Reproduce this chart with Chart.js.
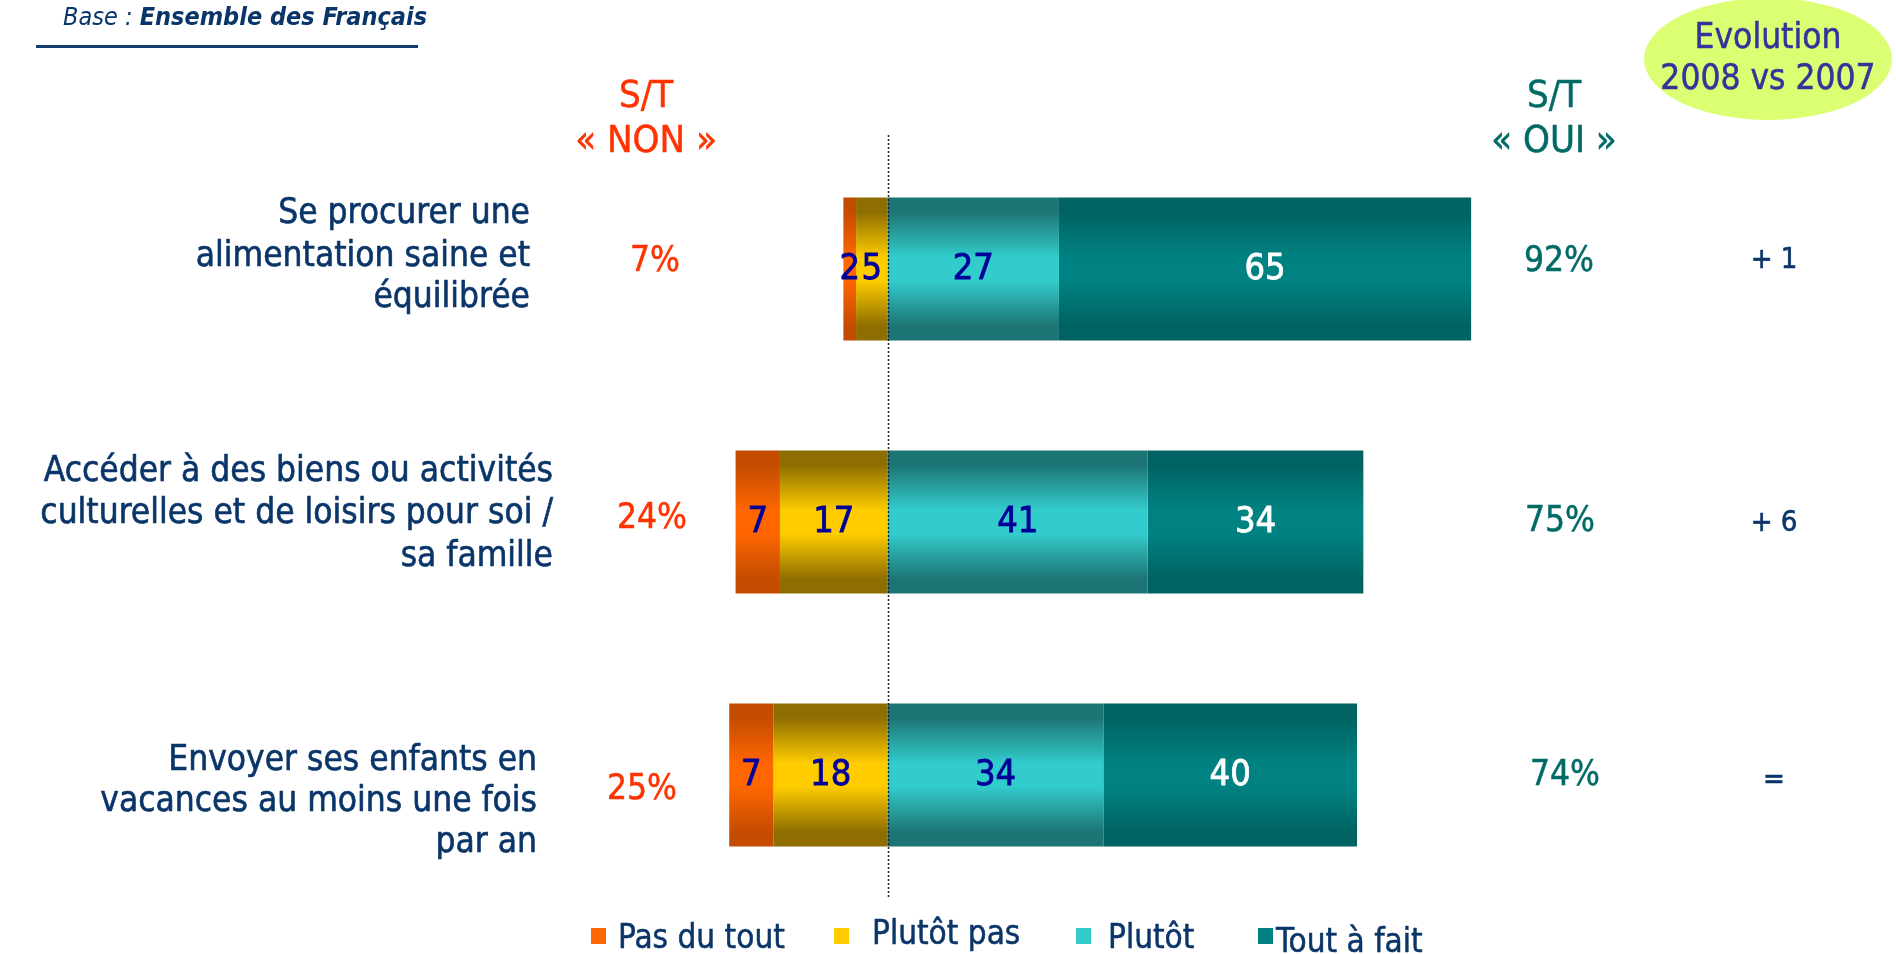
<!DOCTYPE html>
<html>
<head>
<meta charset="utf-8">
<script src="https://cdn.jsdelivr.net/npm/chart.js@4/dist/chart.umd.min.js"></script>
<style>
html,body{margin:0;padding:0;background:#ffffff;}
#wrap{position:relative;width:1896px;height:954px;}
</style>
</head>
<body>
<div id="wrap"><canvas id="c"></canvas></div>
<script>
// ---- Data ----
const categories = [
  ["Se procurer une", "alimentation saine et", "équilibrée"],
  ["Accéder à des biens ou activités", "culturelles et de loisirs pour soi /", "sa famille"],
  ["Envoyer ses enfants en", "vacances au moins une fois", "par an"]
];
const pasDuTout = [2, 7, 7];
const plutotPas = [5, 17, 18];
const plutot = [27, 41, 34];
const toutAFait = [65, 34, 40];
const stNon = ["7%", "24%", "25%"];
const stOui = ["92%", "75%", "74%"];
const evolution = ["+ 1", "+ 6", "="];
const seriesNames = ["Pas du tout", "Plutôt pas", "Plutôt", "Tout à fait"];
const headerNon = ["S/T", "« NON »"];
const headerOui = ["S/T", "« OUI »"];
const evolutionTitle = ["Evolution", "2008 vs 2007"];
const baseLabel = ["Base : ", "Ensemble des Français"];

// ---- Styles ----
const FONT = "'DejaVu Sans Condensed', 'Liberation Sans', sans-serif";
const NARROW = "'Liberation Sans Narrow', 'DejaVu Sans Condensed', 'Liberation Sans', sans-serif";
const NAVY = "#0a3569";
const RED = "#ff3300";
const TEAL = "#006b66";
const BAR_PCT = 0.565;

const palette = {
  "Pas du tout": {dark: "#c44c00", bright: "#ff6600", legend: "#ff6600", text: "#000099"},
  "Plutôt pas": {dark: "#8e6e00", bright: "#ffcc00", legend: "#ffcc00", text: "#000099"},
  "Plutôt": {dark: "#1d7474", bright: "#33cccc", legend: "#33cccc", text: "#000099"},
  "Tout à fait": {dark: "#006262", bright: "#008282", legend: "#008080", text: "#ffffff"}
};

function gradientFor(name) {
  const p = palette[name];
  return (ctx) => {
    const chart = ctx.chart;
    const area = chart.chartArea;
    if (!area || ctx.dataIndex === undefined || !chart.scales.y) return p.bright;
    const yc = chart.scales.y.getPixelForValue(ctx.dataIndex);
    const t = (area.bottom - area.top) / categories.length * BAR_PCT;
    const g = chart.ctx.createLinearGradient(0, yc - t / 2, 0, yc + t / 2);
    g.addColorStop(0, p.dark);
    g.addColorStop(0.1, p.dark);
    g.addColorStop(0.42, p.bright);
    g.addColorStop(0.58, p.bright);
    g.addColorStop(0.9, p.dark);
    g.addColorStop(1, p.dark);
    return g;
  };
}

// Negative side: "Plutôt pas" sits next to zero, "Pas du tout" outside it.
const datasets = [
  {label: "Plutôt pas", data: plutotPas.map(v => -v)},
  {label: "Pas du tout", data: pasDuTout.map(v => -v)},
  {label: "Plutôt", data: plutot},
  {label: "Tout à fait", data: toutAFait}
].map(d => Object.assign(d, {
  backgroundColor: gradientFor(d.label),
  borderWidth: 0,
  barPercentage: BAR_PCT,
  categoryPercentage: 1.0
}));

// ---- Layout of free texts (pixels) ----
const catLayout = [
  {right: 530, y: [214, 257, 298]},
  {right: 553, y: [472, 514, 557]},
  {right: 537, y: [761, 802, 843]}
];
const nonLayout = [{x: 655, y: 262}, {x: 652, y: 519}, {x: 642, y: 790}];
const ouiLayout = [{x: 1559, y: 262}, {x: 1560, y: 522}, {x: 1565, y: 776}];
const evoLayout = [{x: 1774, y: 260}, {x: 1774, y: 523}, {x: 1774, y: 780}];
const legendLayout = [
  {sq: 591, tx: 618, y: 939},
  {sq: 834, tx: 872, y: 935},
  {sq: 1076, tx: 1108, y: 939},
  {sq: 1258, tx: 1276, y: 943}
];

function heavyText(c, txt, x, y, w) {
  c.lineWidth = w;
  c.strokeStyle = c.fillStyle;
  c.strokeText(txt, x, y);
  c.fillText(txt, x, y);
}

const textPlugin = {
  id: "texts",
  afterDatasetsDraw(chart) {
    const c = chart.ctx;
    const xs = chart.scales.x;
    // bar value labels
    c.save();
    c.font = "36px " + NARROW;
    c.textAlign = "center";
    c.textBaseline = "middle";
    chart.data.datasets.forEach((ds, di) => {
      const meta = chart.getDatasetMeta(di);
      meta.data.forEach((el, i) => {
        const v = ds.data[i];
        c.fillStyle = palette[ds.label].text;
        heavyText(c, String(Math.abs(v)), (el.x + el.base) / 2, el.y + 1, 0.8);
      });
    });
    c.restore();
    // dotted zero line
    const x0 = Math.round(xs.getPixelForValue(0)) + 0.5;
    c.save();
    c.strokeStyle = "#222222";
    c.lineWidth = 1.5;
    c.setLineDash([2, 2]);
    c.beginPath();
    c.moveTo(x0, 135);
    c.lineTo(x0, 897);
    c.stroke();
    c.restore();
  },
  afterDraw(chart) {
    const c = chart.ctx;
    c.save();
    c.textBaseline = "middle";
    c.lineJoin = "round";
    // base line
    c.font = "italic 25px " + FONT;
    c.fillStyle = NAVY;
    c.textAlign = "left";
    c.fillText(baseLabel[0], 63, 18);
    const w0 = c.measureText(baseLabel[0]).width;
    c.font = "italic bold 25px " + FONT;
    c.fillText(baseLabel[1], 63 + w0, 18);
    c.fillStyle = "#123d6f";
    c.fillRect(36, 45, 382, 3);

    // headers
    c.textAlign = "center";
    c.font = "38px " + FONT;
    c.fillStyle = RED;
    heavyText(c, headerNon[0], 646, 97, 0.5);
    heavyText(c, headerNon[1], 646, 142, 0.5);
    c.fillStyle = TEAL;
    heavyText(c, headerOui[0], 1554, 97, 0.5);
    heavyText(c, headerOui[1], 1554, 142, 0.5);

    // evolution ellipse
    c.fillStyle = "#dcfe72";
    c.beginPath();
    c.ellipse(1768, 59, 124, 61, 0, 0, Math.PI * 2);
    c.fill();
    c.fillStyle = "#333399";
    c.font = "35px " + FONT;
    heavyText(c, evolutionTitle[0], 1768, 39, 0.5);
    heavyText(c, evolutionTitle[1], 1768, 80, 0.5);

    // category labels
    c.textAlign = "right";
    c.fillStyle = NAVY;
    c.font = "35px " + FONT;
    categories.forEach((lines, i) => {
      lines.forEach((ln, j) => heavyText(c, ln, catLayout[i].right, catLayout[i].y[j], 0.6));
    });

    // S/T values and evolution
    c.textAlign = "center";
    c.font = "35px " + FONT;
    stNon.forEach((t, i) => { c.fillStyle = RED; heavyText(c, t, nonLayout[i].x, nonLayout[i].y, 0.5); });
    stOui.forEach((t, i) => { c.fillStyle = TEAL; heavyText(c, t, ouiLayout[i].x, ouiLayout[i].y, 0.5); });
    c.font = "29px " + FONT;
    c.fillStyle = NAVY;
    evolution.forEach((t, i) => heavyText(c, t, evoLayout[i].x, evoLayout[i].y, 0.6));

    // legend
    c.textAlign = "left";
    c.font = "33px " + FONT;
    seriesNames.forEach((n, i) => {
      const L = legendLayout[i];
      c.fillStyle = palette[n].legend;
      c.fillRect(L.sq, 928, 15, 16);
      c.fillStyle = NAVY;
      heavyText(c, n, L.tx, L.y, 0.5);
    });
    c.restore();
  }
};

new Chart(document.getElementById("c"), {
  type: "bar",
  data: {labels: categories, datasets: datasets},
  options: {
    indexAxis: "y",
    responsive: true,
    maintainAspectRatio: false,
    animation: false,
    layout: {padding: {top: 142.5, bottom: 52.5, left: 0, right: 0}},
    scales: {
      x: {stacked: true, min: -140, max: 159, display: false},
      y: {stacked: true, display: false}
    },
    plugins: {legend: {display: false}, tooltip: {enabled: false}}
  },
  plugins: [textPlugin]
});
</script>
</body>
</html>
